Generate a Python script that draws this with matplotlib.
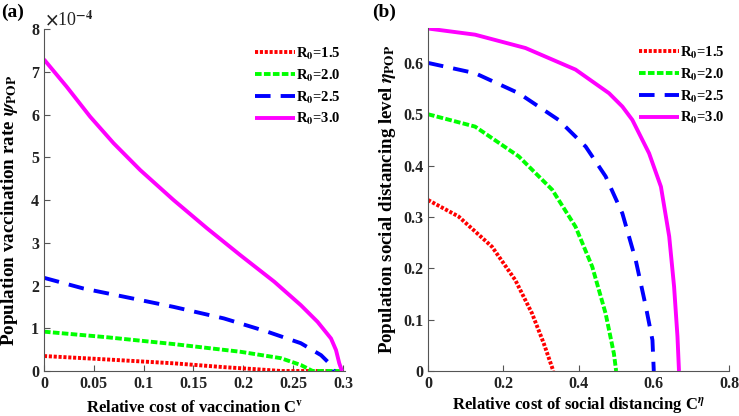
import matplotlib
matplotlib.use('Agg')
import matplotlib.pyplot as plt

plt.rcParams['font.family'] = ['Liberation Serif', 'DejaVu Serif']
plt.rcParams['font.weight'] = 'bold'
plt.rcParams['axes.labelweight'] = 'bold'
plt.rcParams['mathtext.fontset'] = 'stix'

# (a) vaccination rate, in units of 1e-4
cv_r15 = [0, 0.063, 0.130, 0.1805, 0.214, 0.238, 0.285]
psi_r15 = [0.35, 0.27, 0.18, 0.09, 0.04, 0.0, 0.0]
cv_r20 = [0, 0.063, 0.130, 0.197, 0.2376, 0.2577, 0.2695, 0.2987]
psi_r20 = [0.92, 0.79, 0.63, 0.45, 0.30, 0.14, 0.0, 0.0]
cv_r25 = [0, 0.0396, 0.0798, 0.130, 0.1805, 0.224, 0.2577, 0.278, 0.288, 0.291]
psi_r25 = [2.18, 1.93, 1.74, 1.50, 1.23, 0.92, 0.65, 0.37, 0.14, 0.0]
cv_r30 = [0, 0.0228, 0.0463, 0.0698, 0.0966, 0.130, 0.1635, 0.197, 0.231,
          0.2577, 0.2745, 0.288, 0.293, 0.2963, 0.299]
psi_r30 = [7.29, 6.65, 5.95, 5.33, 4.70, 4.0, 3.34, 2.71, 2.09,
           1.54, 1.15, 0.76, 0.49, 0.18, 0.0]

# (b) social distancing level
ce_r15 = [0, 0.081, 0.17, 0.232, 0.2765, 0.3075, 0.333]
eta_r15 = [0.333, 0.301, 0.242, 0.177, 0.112, 0.054, 0.0]
ce_r20 = [0, 0.125, 0.241, 0.33, 0.392, 0.4365, 0.472, 0.494, 0.5]
eta_r20 = [0.5, 0.476, 0.418, 0.353, 0.281, 0.203, 0.112, 0.034, 0.0]
ce_r25 = [0, 0.125, 0.241, 0.347, 0.419, 0.472, 0.5165, 0.552, 0.579, 0.5965, 0.6]
eta_r25 = [0.6, 0.580, 0.541, 0.489, 0.437, 0.379, 0.307, 0.216, 0.125, 0.060, 0.0]
ce_r30 = [0, 0.125, 0.259, 0.392, 0.481, 0.5165, 0.543, 0.5875, 0.619, 0.641, 0.654, 0.663, 0.667]
eta_r30 = [0.667, 0.655, 0.629, 0.587, 0.541, 0.515, 0.489, 0.424, 0.359, 0.262, 0.164, 0.067, 0.0]

labels = ['R$_\\mathbf{0}$=1.5', 'R$_\\mathbf{0}$=2.0', 'R$_\\mathbf{0}$=2.5', 'R$_\\mathbf{0}$=3.0']
colors = ['#ff0000', '#00ff00', '#0000ff', '#ff00ff']
dashes = [(0.8, 0.45), (1.7, 0.6), (4, 2.6), None]

fig = plt.figure(figsize=(7.39, 4.16), dpi=100)
ax1 = fig.add_axes([0.0595, 0.1082, 0.4073, 0.822])
ax2 = fig.add_axes([0.5792, 0.1082, 0.4073, 0.8245])


def draw(ax, xs, ys):
    for x, y, lab, c, d in zip(xs, ys, labels, colors, dashes):
        ln, = ax.plot(x, y, color=c, lw=2.8, label=lab, solid_capstyle='butt',
                      dash_capstyle='butt', solid_joinstyle='round')
        if d is not None:
            ln.set_dashes(d)
    for s in ['top', 'right']:
        ax.spines[s].set_visible(False)
    for s in ['left', 'bottom']:
        ax.spines[s].set_color('#555555')
    ax.tick_params(direction='in', length=4, color='#555555', labelsize=11.5,
                   labelcolor='#222222')
    ax.legend(loc='upper right', frameon=False, fontsize=10.5,
              handlelength=2.7, handletextpad=0.1, labelspacing=0.4,
              bbox_to_anchor=(1.03, 0.99))


draw(ax1, [cv_r15, cv_r20, cv_r25, cv_r30], [psi_r15, psi_r20, psi_r25, psi_r30])
ax1.set_xlim(0, 0.302)
ax1.set_ylim(0, 8)
ax1.set_xticks([0, 0.05, 0.1, 0.15, 0.2, 0.25, 0.3])
ax1.set_xticklabels(['0', '0.05', '0.1', '0.15', '0.2', '0.25', '0.3'])
ax1.set_yticks(range(9))
ax1.set_xlabel('Relative cost of vaccination C$^\\mathbf{v}$', fontsize=12)
ax1.xaxis.set_label_coords(0.5, -0.083)
ax1.set_ylabel('Population vaccination rate $\\psi_{\\mathbf{POP}}$', fontsize=13.8)
ax1.yaxis.set_label_coords(-0.08, 0.468)
ax1.text(0.005, 1.0, '$\\times$10$^{-4}$', transform=ax1.transAxes, fontsize=13,
         fontweight='normal', va='bottom', ha='left', color='#222222')

draw(ax2, [ce_r15, ce_r20, ce_r25, ce_r30], [eta_r15, eta_r20, eta_r25, eta_r30])
ax2.set_xlim(0, 0.8)
ax2.set_ylim(0, 0.668)
ax2.set_xticks([0, 0.2, 0.4, 0.6, 0.8])
ax2.set_xticklabels(['0', '0.2', '0.4', '0.6', '0.8'])
ax2.set_yticks([0, 0.1, 0.2, 0.3, 0.4, 0.5, 0.6])
ax2.set_yticklabels(['0', '0.1', '0.2', '0.3', '0.4', '0.5', '0.6'])
ax2.set_xlabel('Relative cost of social distancing C$^{\\eta}$', fontsize=12)
ax2.xaxis.set_label_coords(0.5, -0.072)
ax2.set_ylabel('Population social distancing level $\\eta_{\\mathbf{POP}}$', fontsize=13.6)
ax2.yaxis.set_label_coords(-0.1, 0.5)

for ax in (ax1, ax2):
    for t in ax.get_xticklabels() + ax.get_yticklabels():
        t.set_fontweight('bold')

fig.text(0.001, 0.97, '(a)', fontsize=14, fontweight='bold', va='center', ha='left')
fig.text(0.503, 0.97, '(b)', fontsize=14, fontweight='bold', va='center', ha='left')

fig.savefig('out.png', dpi=100)
